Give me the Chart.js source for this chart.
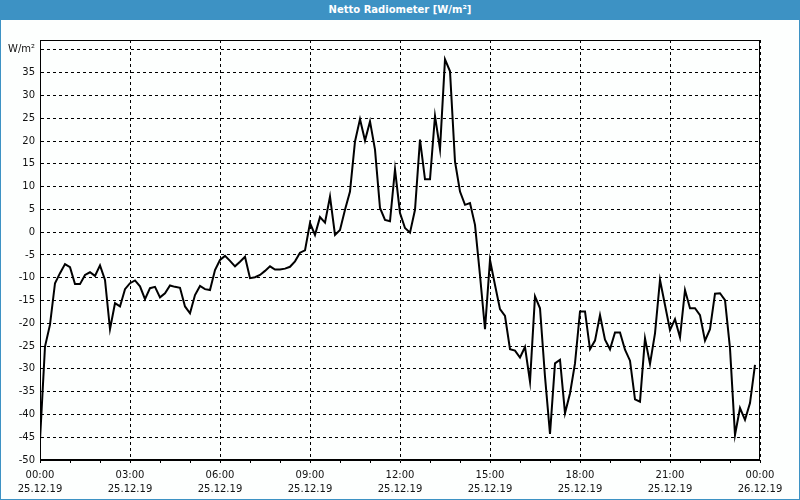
<!DOCTYPE html>
<html>
<head>
<meta charset="utf-8">
<script src="https://cdn.jsdelivr.net/npm/chart.js@4.4.0/dist/chart.umd.min.js"></script>
<style>
  html, body { margin: 0; padding: 0; background: #fdfffe; }
  #wrap { position: relative; width: 800px; height: 500px; background: #fdfffe; overflow: hidden; }
  #c { position: absolute; left: 0; top: 0; width: 800px; height: 500px; }
  #title { position: absolute; left: 0; top: 0; width: 800px; height: 20px; background: #3d92c4;
           color: #fff; font: bold 10px "DejaVu Sans", sans-serif; text-align: center; line-height: 20px; }
  #frame { position: absolute; left: 0; top: 0; width: 800px; height: 500px; box-sizing: border-box;
           border: 1px solid #3d92c4; pointer-events: none; }
</style>
</head>
<body>
<div id="wrap">
  <canvas id="c" width="800" height="500"></canvas>
  <div id="title">Netto Radiometer [W/m²]</div>
  <div id="frame"></div>
</div>
<script>
// time of each reading, minutes after 25.12.19 00:00 (10-minute steps)
const minutes = [];
for (let m = 0; m < 1440; m += 10) minutes.push(m);

// Netto radiation [W/m²]
const values = [
  -45.6, -25.1, -20.3, -11.2, -9.0, -7.0, -7.7, -11.4, -11.4, -9.4, -8.8, -9.6,
  -7.3, -10.5, -21.3, -15.6, -16.3, -12.5, -11.2, -10.6, -11.9, -14.7, -12.3, -12.0,
  -14.3, -13.4, -11.7, -12.0, -12.2, -16.3, -17.8, -13.8, -11.8, -12.5, -12.7, -8.3,
  -6.1, -5.2, -6.3, -7.5, -6.5, -5.4, -10.1, -9.9, -9.4, -8.5, -7.5, -8.2,
  -8.2, -8.0, -7.6, -6.4, -4.5, -4.0, 2.0, -0.6, 3.3, 2.1, 7.8, -0.6,
  0.5, 4.9, 8.9, 19.9, 24.8, 20.1, 24.3, 18.1, 5.3, 2.7, 2.4, 13.8,
  4.2, 0.9, -0.1, 4.9, 20.3, 11.6, 11.6, 25.5, 18.2, 37.9, 35.3, 15.5,
  8.9, 6.0, 6.4, 1.6, -9.5, -21.3, -6.1, -11.6, -16.9, -18.4, -25.7, -26.0,
  -27.5, -25.2, -32.8, -14.1, -16.7, -31.7, -44.3, -28.8, -28.0, -39.7, -35.4, -28.8,
  -17.4, -17.4, -25.7, -23.8, -18.2, -23.6, -25.7, -22.0, -22.0, -25.8, -28.2, -36.7,
  -37.2, -23.3, -28.9, -22.2, -10.5, -16.0, -21.5, -19.1, -23.1, -12.7, -16.7, -16.7,
  -18.2, -23.8, -21.3, -13.5, -13.4, -14.9, -25.5, -44.5, -38.6, -41.2, -37.5, -29.1
];

// x tick labels every 3 hours
const xTickMinutes = [0, 180, 360, 540, 720, 900, 1080, 1260, 1440];
const xTickTimes   = ['00:00', '03:00', '06:00', '09:00', '12:00', '15:00', '18:00', '21:00', '00:00'];
const xTickDates   = ['25.12.19', '25.12.19', '25.12.19', '25.12.19', '25.12.19', '25.12.19', '25.12.19', '25.12.19', '26.12.19'];

const yUnitLabel = 'W/m²';

const points = minutes.map((m, i) => ({ x: m, y: values[i] }));

const framePlugin = {
  id: 'frame',
  afterDraw(chart) {
    const a = chart.chartArea, ctx = chart.ctx;
    ctx.save();
    ctx.strokeStyle = '#000';
    ctx.lineWidth = 1;
    ctx.setLineDash([]);
    ctx.strokeRect(Math.round(a.left) + 0.5, Math.round(a.top) + 0.5,
                   Math.round(a.right - a.left) - 1, Math.round(a.bottom - a.top) - 1);
    ctx.restore();
  }
};

new Chart(document.getElementById('c'), {
  type: 'line',
  data: {
    datasets: [{
      data: points,
      borderColor: '#000',
      borderWidth: 2,
      pointRadius: 0,
      tension: 0,
      fill: false
    }]
  },
  options: {
    responsive: false,
    animation: false,
    events: [],
    layout: { padding: { left: 0, right: 40, top: 40, bottom: 0 } },
    plugins: { legend: { display: false }, tooltip: { enabled: false }, title: { display: false } },
    scales: {
      x: {
        type: 'linear',
        min: 0, max: 1440,
        afterFit(s) { s.height = 40; },
        afterBuildTicks(s) {
          const t = [];
          for (let m = 0; m <= 1440; m += 60) t.push({ value: m });
          s.ticks = t;
        },
        ticks: {
          autoSkip: false,
          maxRotation: 0,
          padding: 5,
          color: '#111',
          font: { family: '"DejaVu Sans", sans-serif', size: 10, lineHeight: 1.45 },
          callback(v) {
            const k = xTickMinutes.indexOf(v);
            return k >= 0 ? [xTickTimes[k], xTickDates[k]] : '';
          }
        },
        grid: {
          drawTicks: true,
          tickLength: 3,
          tickColor: '#000',
          lineWidth: 1,
          color(ctx) { return (ctx.tick && xTickMinutes.indexOf(ctx.tick.value) >= 0) ? '#000' : 'rgba(0,0,0,0)'; }
        },
        border: { display: true, color: '#000', dash: [3, 3] }
      },
      y: {
        min: -50, max: 42.17,
        afterFit(s) { s.width = 40; },
        ticks: {
          stepSize: 5,
          includeBounds: false,
          padding: 5,
          color: '#111',
          font: { family: '"DejaVu Sans", sans-serif', size: 10 },
          callback(v) { return v === 40 ? yUnitLabel : String(v); }
        },
        grid: { drawTicks: false, color: '#000', lineWidth: 1 },
        border: { display: true, color: '#000', dash: [3, 3] }
      }
    }
  },
  plugins: [framePlugin]
});
</script>
</body>
</html>
